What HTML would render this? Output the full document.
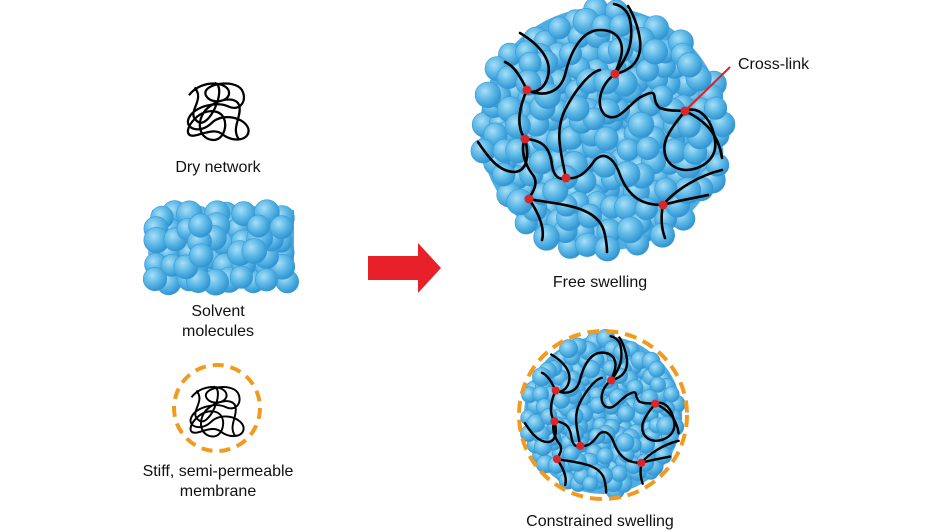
<!DOCTYPE html>
<html><head><meta charset="utf-8"><style>
html,body{margin:0;padding:0;background:#fff;}
svg{display:block}
text{font-family:"Liberation Sans",Arial,sans-serif;font-size:16px;fill:#111;}
</style></head><body>
<svg id="s" width="945" height="532" viewBox="0 0 945 532" xmlns="http://www.w3.org/2000/svg">
<defs>
<radialGradient id="g" cx="0.38" cy="0.35" r="0.7">
<stop offset="0" stop-color="#a8def7"/><stop offset="0.5" stop-color="#5cb8e6"/><stop offset="1" stop-color="#2b8fcf"/>
</radialGradient>
<g id="net" fill="none" stroke="#000" stroke-linecap="round">
<path d="M520,33 C540,45 552,60 548,76 C545,90 532,95 527,90"/>
<path d="M505,62 C515,66 522,80 527,90 C545,98 560,92 565,75 C572,45 585,30 600,30 C620,30 625,45 620,60 C617,70 615,72 615,74"/>
<path d="M615,74 C625,60 635,45 630,20 C628,10 620,5 614,4"/>
<path d="M615,74 C632,70 642,60 640,40 C638,25 632,12 628,6"/>
<path d="M615,74 C600,85 595,105 605,115 C620,125 630,100 645,95 C660,88 650,100 660,108 C670,112 680,110 685,111"/>
<path d="M685,111 C700,105 712,120 715,140 C718,160 700,170 685,170 C665,168 660,150 668,135 C675,122 682,115 685,111"/>
<path d="M685,111 C700,118 718,130 722,158"/>
<path d="M527,90 C520,105 515,125 525,139"/>
<path d="M478,142 C490,160 500,172 515,172 C530,170 528,150 525,139"/>
<path d="M525,139 C545,140 550,150 552,165 C554,178 560,180 566,178"/>
<path d="M525,139 C520,150 525,165 533,175 C540,185 530,195 529,199"/>
<path d="M566,178 C560,150 555,130 565,110 C575,90 590,72 600,70"/>
<path d="M566,178 C580,180 588,170 595,160 C605,150 615,160 620,175 C630,200 645,205 663,205"/>
<path d="M529,199 C540,215 545,230 542,240"/>
<path d="M529,199 C560,205 600,205 605,235 C607,245 607,250 607,252"/>
<path d="M663,205 C660,220 662,230 665,238"/>
<path d="M663,205 C680,200 700,197 708,195"/>
<path d="M663,205 C675,190 700,175 722,170"/>
</g>
<path id="tangle" fill="none" stroke="#000" stroke-width="2" d="M-25,-15 C-15,-28 5,-28 10,-20 C15,-10 -5,-5 -10,-15 C-14,-25 15,-30 22,-20 C28,-10 20,0 10,-5 C0,-10 -20,-5 -25,5 C-30,15 -15,20 -5,10 C5,0 25,5 28,15 C30,25 15,28 5,20 C-5,12 -20,25 -25,20 C-30,15 -15,-5 0,0 C12,4 8,25 -3,25 C-15,25 -20,10 -10,-2 C0,-12 18,-15 20,-5 C22,5 12,15 20,25 M-20,-22 C-10,-10 -28,0 -18,8 C-8,18 10,-22 -2,-26"/>
</defs>
<circle cx="602" cy="129" r="122" fill="#4eaee2"/>
<g id="big"></g>
<use href="#net" stroke-width="2.6"/>
<line x1="685" y1="111" x2="730" y2="67" stroke="#e02020" stroke-width="2"/>
<g fill="#d8262a">
<circle cx="527" cy="90" r="4.5"/><circle cx="615" cy="74" r="4.5"/><circle cx="685" cy="111" r="4.5"/>
<circle cx="525" cy="139" r="4.5"/><circle cx="566" cy="178" r="4.5"/><circle cx="529" cy="199" r="4.5"/><circle cx="663" cy="205" r="4.5"/>
</g>
<circle cx="603" cy="415" r="79" fill="#4eaee2"/>
<g id="small"></g>
<g transform="translate(603,415) scale(0.63) translate(-602,-129)">
<use href="#net" stroke-width="3.8"/>
<g fill="#d8262a">
<circle cx="527" cy="90" r="6.5"/><circle cx="615" cy="74" r="6.5"/><circle cx="685" cy="111" r="6.5"/>
<circle cx="525" cy="139" r="6.5"/><circle cx="566" cy="178" r="6.5"/><circle cx="529" cy="199" r="6.5"/><circle cx="663" cy="205" r="6.5"/>
</g>
</g>
<circle cx="603" cy="415" r="84" fill="none" stroke="#f39a1e" stroke-width="4" stroke-dasharray="12 7"/>
<rect x="152" y="210" width="142" height="74" fill="#4eaee2"/>
<g id="rect"></g>
<use href="#tangle" transform="translate(217,112) scale(1.12)"/>
<use href="#tangle" transform="translate(216,412) scale(0.98)"/>
<circle cx="217" cy="408" r="43" fill="none" stroke="#f39a1e" stroke-width="4" stroke-dasharray="11 7"/>
<polygon points="368,256 418,256 418,243 441,268 418,293 418,280 368,280" fill="#e8202a"/>
<g text-anchor="middle">
<text x="218" y="172">Dry network</text>
<text x="218" y="316">Solvent</text>
<text x="218" y="336">molecules</text>
<text x="218" y="476">Stiff, semi-permeable</text>
<text x="218" y="496">membrane</text>
<text x="600" y="287">Free swelling</text>
<text x="600" y="526">Constrained swelling</text>
</g>
<text x="738" y="69">Cross-link</text>
</svg>
<script>
(function(){
var ns="http://www.w3.org/2000/svg";var seed=7;
function rnd(){seed=(seed*16807)%2147483647;return seed/2147483647;}
function sphere(g,x,y,r){var c=document.createElementNS(ns,"circle");c.setAttribute("cx",x.toFixed(1));c.setAttribute("cy",y.toFixed(1));c.setAttribute("r",r.toFixed(1));c.setAttribute("fill","url(#g)");c.setAttribute("stroke","#3a9ad6");c.setAttribute("stroke-width","0.6");g.appendChild(c);}
function disc(id,cx,cy,R,sr,step){var g=document.getElementById(id);var pts=[];var row=0;
for(var y=cy-R;y<=cy+R;y+=step*0.87){row++;for(var x=cx-R+(row%2?step/2:0);x<=cx+R;x+=step){var px=x+(rnd()-0.5)*step*0.5,py=y+(rnd()-0.5)*step*0.5;var d=Math.hypot(px-cx,py-cy);if(d<=R-sr*0.95)pts.push([px,py,sr*(0.9+rnd()*0.2)]);}}
pts.sort(function(){return rnd()-0.5;});pts.forEach(function(p){sphere(g,p[0],p[1],p[2]);});}
disc("big",602,130,133,12,16);
disc("small",603,415,85,8.5,11);
var g=document.getElementById("rect");var pts=[];
for(var y=215;y<=280;y+=13)for(var x=158;x<=288;x+=14){pts.push([x+(rnd()-0.5)*8,y+(rnd()-0.5)*6,11+rnd()*2]);}
pts.sort(function(){return rnd()-0.5;});pts.forEach(function(p){sphere(g,p[0],p[1],p[2]);});
})();
</script>
</body></html>
